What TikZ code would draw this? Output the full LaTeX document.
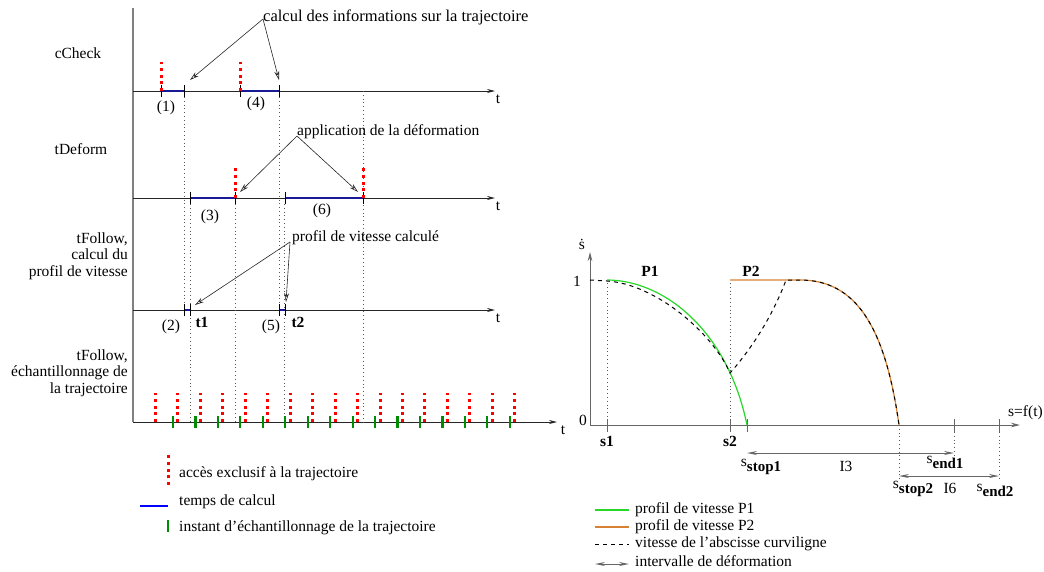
\documentclass[tikz,border=0pt]{standalone}
\usepackage{fontspec}
\setmainfont{Liberation Serif}
\usetikzlibrary{arrows.meta}

\definecolor{calcblue}{RGB}{25,25,150}
\definecolor{sampgreen}{RGB}{0,140,0}
\definecolor{pone}{RGB}{40,215,40}
\definecolor{ptwo}{RGB}{215,130,50}

\newcommand{\sidx}[2]{s\raisebox{-5pt}{\fontsize{15}{15}\selectfont\bfseries #2}}

\begin{document}
\begin{tikzpicture}[x=1pt, y=-1pt,
  every node/.style={font=\fontsize{15.5}{16.5}\selectfont, inner sep=0pt},
  lbl/.style={align=right, anchor=east},
  note/.style={anchor=west},
  axisline/.style={black!85, line width=0.8pt, -{Stealth[length=8pt,width=4pt]}},
  vaxis/.style={gray, line width=1.6pt},
  raxis/.style={gray!80!black, line width=1pt, -{Stealth[length=9pt,width=4.5pt]}},
  notearrow/.style={black!85, line width=0.6pt, -{Stealth[open,length=9pt,width=5pt]}},
  excl/.style={red, line width=3pt, dash pattern=on 3pt off 3.7pt},
  calc/.style={calcblue, line width=2.2pt},
  samp/.style={sampgreen, line width=2.2pt},
  endtick/.style={black, line width=0.9pt},
  guide/.style={gray!70!black, line width=0.7pt, dash pattern=on 0.8pt off 3pt},
  rtick/.style={gray!80!black, line width=1pt},
  speed/.style={black, line width=1pt, dash pattern=on 4pt off 4pt},
  keyline/.style={line width=2pt},
  interval/.style={gray!80!black, line width=0.8pt, {Stealth[open,length=10pt,width=4pt]}-{Stealth[open,length=10pt,width=4pt]}}
]
\path[use as bounding box] (0,0) rectangle (1044,571);

% time lines
\coordinate (top) at (133,8);
\coordinate (bot) at (133,422);
\draw[vaxis] (top) -- (bot);
\foreach \y/\n in {91/chk,198/dfm,310/flw}{
  \coordinate (\n0) at (133,\y);
  \coordinate (\n1) at (495,\y);
  \draw[axisline] (\n0) -- (\n1);
  \node (t\n) at (498,{\y+8}) {t};
}
\coordinate (smp1) at (557,422);
\draw[axisline] (bot) -- (smp1);
\node (tsmp) at (563,430) {t};

\node (chk) at (78,53) {cCheck};
\node (dfm) at (81,149) {tDeform};
\node[lbl] (flw) at (128,256) {tFollow,\\calcul du\\profil de vitesse};
\node[lbl] (smp) at (128,373) {tFollow,\\échantillonnage de\\la trajectoire};

% guides
\foreach \x/\a/\b in {184/97/310, 279/97/310, 190/204/422, 235/204/422, 284/204/422, 363/91/422}
  \draw[guide] (\x,\a) -- (\x,\b);

% cCheck
\draw[calc] (161.5,91) -- (184,91);
\draw[calc] (240,91) -- (279,91);
\foreach \x in {161.5,184,240,279} \draw[endtick] (\x,85) -- (\x,97);
\draw[excl] (161.5,91) -- (161.5,62);
\draw[excl] (240,91) -- (240,62);
\node (c1) at (166,108) {(1)};
\node (c4) at (256,104) {(4)};

% tDeform
\draw[calc] (190,198) -- (235,198);
\draw[calc] (285,198) -- (363,198);
\foreach \x in {190,235,285,363} \draw[endtick] (\x,192) -- (\x,204);
\draw[excl] (235,198) -- (235,168);
\draw[excl] (363,198) -- (363,168);
\node (c3) at (210,217) {(3)};
\node (c6) at (322,211) {(6)};

% tFollow, calcul
\draw[calc] (184,310) -- (190,310);
\draw[calc] (279,310) -- (285,310);
\foreach \x in {184,190,279,285} \draw[endtick] (\x,304) -- (\x,316);
\node (c2) at (171,327) {(2)};
\node (c5) at (271,327) {(5)};
\node (tone) at (202,322) {\textbf{t1}};
\node (ttwo) at (298,322) {\textbf{t2}};

% tFollow, echantillonnage
\foreach \i in {0,...,15} \draw[samp] ({173+22.45*\i},416) -- ({173+22.45*\i},428);
\foreach \i in {0,...,16} \draw[excl] ({155.5+22.45*\i},422) -- ({155.5+22.45*\i},393);

% notes
\node[note, font=\fontsize{16.5}{17}\selectfont] (calcnote) at (263,17) {calcul des informations sur la trajectoire};
\coordinate (calcA) at (190,80);
\coordinate (calcB) at (279,80);
\draw[notearrow] ([yshift=-2pt]calcnote.west) -- (calcA);
\draw[notearrow] ([yshift=-2pt]calcnote.west) -- (calcB);

\node[note] (defnote) at (297,132) {application de la déformation};
\coordinate (defA) at (240,192);
\coordinate (defB) at (358,192);
\draw[notearrow] ([yshift=-4pt]defnote.west) -- (defA);
\draw[notearrow] ([yshift=-4pt]defnote.west) -- (defB);

\node[note] (profnote) at (292,238) {profil de vitesse calculé};
\coordinate (profA) at (195,305);
\coordinate (profB) at (286,302);
\draw[notearrow] ([xshift=-2pt,yshift=-4pt]profnote.west) -- (profA);
\draw[notearrow] ([xshift=-2pt,yshift=-4pt]profnote.west) -- (profB);

% legend, left
\draw[excl] (168,485) -- (168,455);
\node[note] (lexcl) at (179,474) {accès exclusif à la trajectoire};
\draw[blue, line width=2.2pt] (140,506) -- (168,506);
\node[note] (lcalc) at (179,502) {temps de calcul};
\draw[samp] (168,520) -- (168,532);
\node[note] (lsamp) at (179,528) {instant d’échantillonnage de la trajectoire};

% speed profile
\coordinate (rO) at (590,425);
\coordinate (rY) at (590,252);
\coordinate (rX) at (1020,425);
\draw[raxis] (rO) -- (rY);
\draw[raxis] (rO) -- (rX);
\node (sdot) at (582,244) {\.{s}};
\node (one) at (577,281) {1};
\node (zero) at (583,420) {0};
\node[anchor=west] (sft) at (1008,413) {s=f(t)};

\foreach \x in {607,730,747,954,999} \draw[rtick] (\x,419) -- (\x,432);
\draw[guide] (607,283) -- (607,419);
\draw[guide] (730,283) -- (730,419);
\draw[guide] (899,425) -- (899,481);
\draw[guide] (954,432) -- (954,455);
\draw[guide] (999,432) -- (999,481);

\draw[ptwo, line width=1.2pt] (730,280) -- (800,280) .. controls (855,280) and (885,325) .. (899,425);
\draw[pone, line width=1.2pt] (607,280) .. controls (662,280) and (727,328) .. (747,425);
\draw[speed] (590,280) -- (607,281) .. controls (655,284) and (712,332) .. (730,373)
  .. controls (755,345) and (775,310) .. (786,280) -- (800,280)
  .. controls (855,280) and (885,325) .. (899,425);

\node (pa) at (650,271) {\textbf{P1}};
\node (pb) at (751,271) {\textbf{P2}};
\node (sa) at (607,441) {\textbf{s1}};
\node (sb) at (730,441) {\textbf{s2}};
\node (ssa) at (761,467) {\sidx{s}{stop1}};
\node (ssb) at (913,489) {\sidx{s}{stop2}};
\node (sea) at (945,462) {\sidx{s}{end1}};
\node (seb) at (995,490) {\sidx{s}{end2}};

\coordinate (iaL) at (747,453);
\coordinate (iaR) at (954,453);
\coordinate (ibL) at (899,476);
\coordinate (ibR) at (999,476);
\draw[interval] (iaL) -- (iaR);
\draw[interval] (ibL) -- (ibR);
\node (ia) at (846,466) {I3};
\node (ib) at (950,488) {I6};

% legend, right
\coordinate (kaL) at (595,510);
\coordinate (kaR) at (629,510);
\coordinate (kbL) at (595,527);
\coordinate (kbR) at (629,527);
\draw[keyline, draw=pone] (kaL) -- (kaR);
\node[note] (lpa) at (635,510) {profil de vitesse P1};
\draw[keyline, draw=ptwo] (kbL) -- (kbR);
\node[note] (lpb) at (635,527) {profil de vitesse P2};
\draw[speed] (595,544.5) -- (629,544.5);
\node[note] (lsp) at (635,544) {vitesse de l’abscisse curviligne};
\draw[interval] (595,564) -- (629,564);
\node[note] (lint) at (635,561) {intervalle de déformation};
\end{tikzpicture}
\end{document}
